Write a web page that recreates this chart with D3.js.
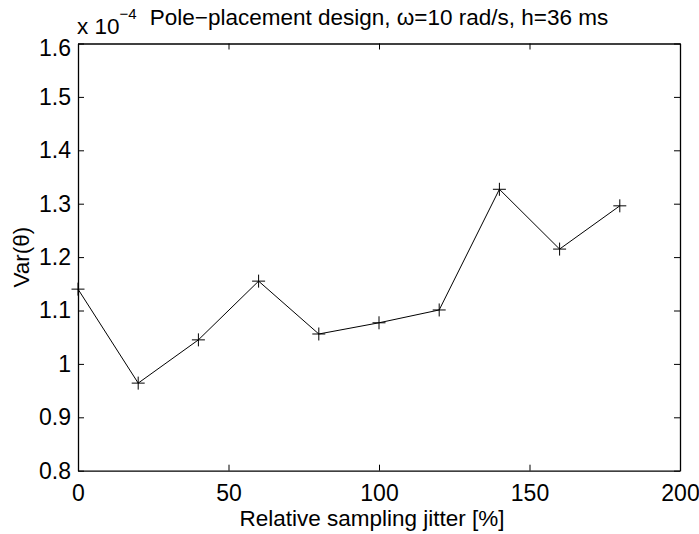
<!DOCTYPE html>
<html>
<head>
<meta charset="utf-8">
<script src="https://cdn.jsdelivr.net/npm/d3@7"></script>
<style>
  body { margin: 0; background: #fff; }
  svg text { font-family: "Liberation Sans", Arial, Helvetica, sans-serif; fill: #000; }
</style>
</head>
<body>
<div id="chart"></div>
<script>
// jitter in percent, variance in units of 1e-4
var jitter = [0, 20, 40, 60, 80, 100, 120, 140, 160, 180];
var variance = [1.140, 0.964, 1.045, 1.155, 1.056, 1.077, 1.101, 1.327, 1.215, 1.296];

var xTicks = [0, 50, 100, 150, 200];
var yTicks = [0.8, 0.9, 1.0, 1.1, 1.2, 1.3, 1.4, 1.5, 1.6];

var titleText = "Pole\u2212placement design, \u03c9=10 rad/s, h=36 ms";
var xLabel = "Relative sampling jitter [%]";
var yLabel = "Var(\u03b8)";

var svgWidth = 699;
var svgHeight = 534;

var margin = { top: 43.5, right: 19, bottom: 63.3, left: 78 };
var width = svgWidth - margin.left - margin.right;
var height = svgHeight - margin.top - margin.bottom;

var svg = d3.select("#chart")
    .append("svg")
    .attr("width", svgWidth)
    .attr("height", svgHeight);

var g = svg.append("g")
    .attr("transform", `translate(${margin.left}, ${margin.top})`);

var xScale = d3.scaleLinear().domain([0, 200]).range([0, width]);
var yScale = d3.scaleLinear().domain([0.8, 1.6]).range([height, 0]);

// axes, ticks pointing inside like matlab
var fmtY = d => d === 1 ? "1" : d3.format(".1f")(d);

var xAxis = d3.axisBottom(xScale).tickValues(xTicks).tickSizeInner(-6).tickSizeOuter(0).tickPadding(14);
var yAxis = d3.axisLeft(yScale).tickValues(yTicks).tickFormat(fmtY).tickSizeInner(-6).tickSizeOuter(0).tickPadding(7);
var xTop = d3.axisTop(xScale).tickValues(xTicks).tickFormat("").tickSizeInner(-6).tickSizeOuter(0);
var yRight = d3.axisRight(yScale).tickValues(yTicks).tickFormat("").tickSizeInner(-6).tickSizeOuter(0);

function styleAxis(sel) {
    sel.select(".domain").attr("stroke", "#000").attr("stroke-width", 1.3);
    sel.selectAll(".tick line").attr("stroke", "#000").attr("stroke-width", 1);
    sel.selectAll(".tick text").style("font-size", "23px").attr("fill", "#000");
}

g.append("g").attr("transform", `translate(0, ${height})`).call(xAxis).call(styleAxis);
var yG = g.append("g").call(yAxis).call(styleAxis);
g.append("g").call(xTop).call(styleAxis);
g.append("g").attr("transform", `translate(${width}, 0)`).call(yRight).call(styleAxis);

// top label sits a bit lower, out of the way of the exponent
yG.selectAll(".tick text").filter(d => d === 1.6).attr("dy", "0.52em");

var data = jitter.map((j, i) => ({ x: j, y: variance[i] }));

var line = d3.line().x(d => xScale(d.x)).y(d => yScale(d.y));

g.append("path")
    .datum(data)
    .attr("fill", "none")
    .attr("stroke", "#000")
    .attr("stroke-width", 1)
    .attr("d", line);

var s = 6.5;
var marks = g.selectAll(".plus")
    .data(data)
    .enter()
    .append("path")
    .attr("class", "plus")
    .attr("d", d => {
        var cx = xScale(d.x), cy = yScale(d.y);
        return `M${cx - s},${cy}H${cx + s}M${cx},${cy - s}V${cy + s}`;
    })
    .attr("stroke", "#000")
    .attr("stroke-width", 1);

// exponent label
var expo = svg.append("text")
    .attr("x", margin.left - 1)
    .attr("y", 34)
    .style("font-size", "22.5px");
expo.append("tspan").text("x 10");
expo.append("tspan").attr("dy", -15).style("font-size", "15px").text("\u22124");

svg.append("text")
    .attr("x", margin.left + width / 2)
    .attr("y", 25)
    .attr("text-anchor", "middle")
    .style("font-size", "22.5px")
    .text(titleText);

svg.append("text")
    .attr("x", 372)
    .attr("y", 526)
    .attr("text-anchor", "middle")
    .style("font-size", "22.5px")
    .text(xLabel);

svg.append("text")
    .attr("transform", `translate(29, ${margin.top + height / 2}) rotate(-90)`)
    .attr("text-anchor", "middle")
    .style("font-size", "22.5px")
    .text(yLabel);
</script>
</body>
</html>
